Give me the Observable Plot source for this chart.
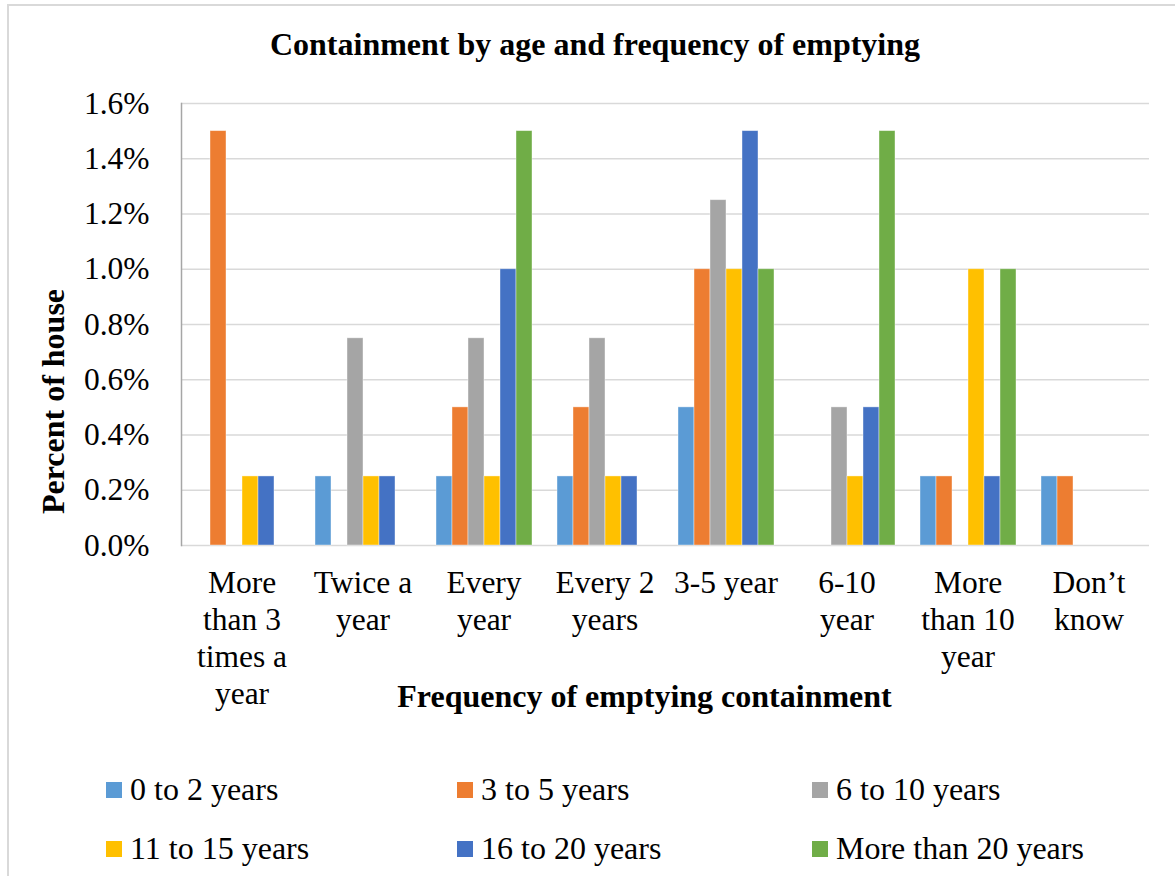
<!DOCTYPE html>
<html>
<head>
<meta charset="utf-8">
<script src="https://cdn.jsdelivr.net/npm/d3@7"></script>
<script src="https://cdn.jsdelivr.net/npm/@observablehq/plot@0.6"></script>
<style>
  body { margin: 0; background: #fff; font-family: "Liberation Serif", "Times New Roman", serif; color: #000; }
  #wrap { position: relative; width: 1175px; height: 876px; overflow: hidden; background: #fff; }
  #border { position: absolute; left: 7px; top: 4px; width: 1300px; height: 1000px; border-left: 2px solid #d9d9d9; border-top: 2px solid #d9d9d9; }
  #title { position: relative; height: 88px; line-height: 88px; width: 1190px; text-align: center; font-weight: bold; font-size: 32px; }
  #chart { position: relative; height: 642px; }
  #legend { position: relative; display: grid; grid-template-columns: 351px 355px auto; grid-auto-rows: 59px; padding-left: 106px; padding-top: 30px; font-size: 32px; }
  .item { display: flex; align-items: center; white-space: nowrap; }
  .sw { width: 16px; height: 16px; margin-right: 8px; flex: none; }
</style>
</head>
<body>
<div id="wrap">
  <div id="border"></div>
  <div id="title">Containment by age and frequency of emptying</div>
  <div id="chart"></div>
  <div id="legend"></div>
</div>
<script>
// ---- Data ----
const categories = ["More than 3 times a year", "Twice a year", "Every year", "Every 2 years", "3-5 year", "6-10 year", "More than 10 year", "Don’t know"];
const categoryLabels = ["More\nthan 3\ntimes a\nyear", "Twice a\nyear", "Every\nyear", "Every 2\nyears", "3-5 year", "6-10\nyear", "More\nthan 10\nyear", "Don’t\nknow"];
const seriesNames = ["0 to 2 years", "3 to 5 years", "6 to 10 years", "11 to 15 years", "16 to 20 years", "More than 20 years"];
const seriesColors = ["#5B9BD5", "#ED7D31", "#A5A5A5", "#FFC000", "#4472C4", "#70AD47"];
// values in percent of houses, one per category
const age0to2   = [0,    0.25, 0.25, 0.25, 0.5,  0,    0.25, 0.25];
const age3to5   = [1.5,  0,    0.5,  0.5,  1.0,  0,    0.25, 0.25];
const age6to10  = [0,    0.75, 0.75, 0.75, 1.25, 0.5,  0,    0];
const age11to15 = [0.25, 0.25, 0.25, 0.25, 1.0,  0.25, 1.0,  0];
const age16to20 = [0.25, 0.25, 1.0,  0.25, 1.5,  0.5,  0.25, 0];
const age20plus = [0,    0,    1.5,  0,    1.0,  1.5,  1.0,  0];
const yTicks = [0, 0.2, 0.4, 0.6, 0.8, 1.0, 1.2, 1.4, 1.6];

const seriesValues = [age0to2, age3to5, age6to10, age11to15, age16to20, age20plus];
const rows = [];
seriesNames.forEach((s, i) => categories.forEach((c, j) => rows.push({category: c, series: s, value: seriesValues[i][j]})));

const font = '"Liberation Serif", "Times New Roman", serif';

const chart = Plot.plot({
  width: 1175,
  height: 642,
  marginTop: 15,
  marginBottom: 185,
  marginLeft: 180,
  marginRight: 25,
  style: {fontFamily: font, fontSize: "31.5px", color: "#000", background: "transparent", overflow: "visible"},
  fx: {domain: categories, padding: 0, axis: null, label: null},
  x: {domain: seriesNames, paddingInner: 0, paddingOuter: 0.75, axis: null},
  y: {domain: [0, 1.6], label: null},
  color: {domain: seriesNames, range: seriesColors},
  marks: [
    Plot.gridY(yTicks, {stroke: "#d9d9d9", strokeOpacity: 1, strokeWidth: 1.5}),
    Plot.frame({anchor: "left", facetAnchor: "left", stroke: "#a6a6a6", strokeWidth: 1.5}),
    Plot.axisY(yTicks, {tickFormat: d => d.toFixed(1) + "%", tickSize: 0, tickPadding: 32, fontSize: 31.5, label: null}),
    Plot.barY(rows.filter(d => d.value > 0), {fx: "category", x: "series", y: "value", fill: "series", stroke: "white", strokeOpacity: 0.5, strokeWidth: 0.8}),
    Plot.text(categories, {fx: d => d, text: d => categoryLabels[categories.indexOf(d)], frameAnchor: "bottom", lineAnchor: "top", dy: 21, lineHeight: 1.175, fontSize: 31.5}),
    Plot.text(["Percent of house"], {facetAnchor: "left", frameAnchor: "left", textAnchor: "middle", rotate: -90, dx: -128, dy: 77, fontWeight: "bold", fontSize: 32}),
    Plot.text(["Frequency of emptying containment"], {facetAnchor: "left", frameAnchor: "bottom-left", textAnchor: "middle", dx: 463, dy: 161, fontWeight: "bold", fontSize: 32})
  ]
});
document.getElementById("chart").appendChild(chart);

// ---- Legend ----
const legend = document.getElementById("legend");
seriesNames.forEach((s, i) => {
  const item = document.createElement("div");
  item.className = "item";
  const sw = document.createElement("span");
  sw.className = "sw";
  sw.style.background = seriesColors[i];
  const label = document.createElement("span");
  label.textContent = s;
  item.appendChild(sw);
  item.appendChild(label);
  legend.appendChild(item);
});
</script>
</body>
</html>
